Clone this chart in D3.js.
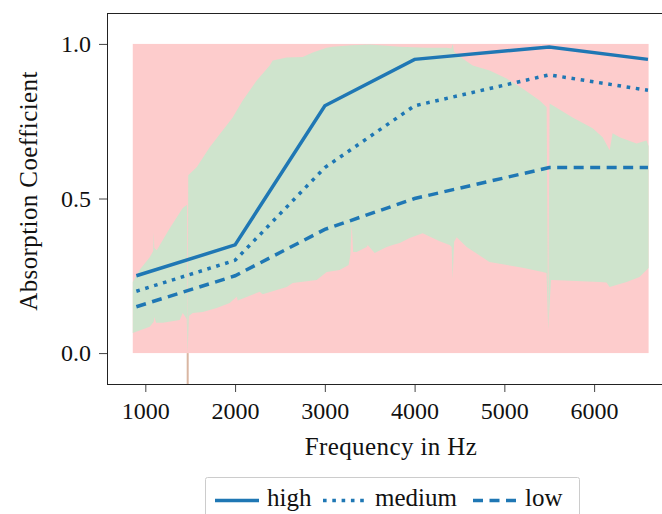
<!DOCTYPE html>
<html>
<head>
<meta charset="utf-8">
<script src="https://cdn.jsdelivr.net/npm/d3@7"></script>
<style>
  body { margin: 0; background: #fff; }
  svg text { font-family: "Liberation Serif", "Times New Roman", serif; fill: #111; }
</style>
</head>
<body>
<div id="chart"></div>
<script>
// measured points of the three curves
const freqs = [900, 2000, 3000, 4000, 5500, 6600];
const high = [0.25, 0.35, 0.80, 0.95, 0.99, 0.95];
const medium = [0.20, 0.30, 0.60, 0.80, 0.90, 0.85];
const low = [0.15, 0.25, 0.40, 0.50, 0.60, 0.60];
const seriesNames = ["high", "medium", "low"];

// background band (frequency span, value span)
const bandFreq = [860, 6607];
const bandValue = [0, 1];

// upper / lower edge of the green envelope, [freq, value]
const envUpper = [
  [860, 0.23], [940, 0.27], [1049, 0.31], [1088, 0.33], [1094, 0.39], [1100, 0.34],
  [1127, 0.333], [1272, 0.404], [1417, 0.469], [1465, 0.48], [1472, 0.0], [1478, 0.575],
  [1495, 0.58], [1572, 0.601], [1717, 0.666], [1973, 0.762], [2085, 0.817],
  [2241, 0.882], [2386, 0.93], [2419, 0.946], [2575, 0.956], [2753, 0.958],
  [2865, 0.972], [3021, 0.988], [3088, 0.991], [3300, 0.996], [3500, 0.998],
  [3834, 0.991], [4134, 0.988], [4357, 0.988], [4410, 0.985], [4424, 1.0],
  [4440, 0.975], [4535, 0.953], [4647, 0.93], [4836, 0.914], [5025, 0.888],
  [5203, 0.856], [5393, 0.817], [5471, 0.795], [5488, 0.075], [5504, 0.807],
  [5760, 0.762], [5984, 0.727], [6095, 0.698], [6173, 0.656], [6206, 0.711],
  [6284, 0.698], [6473, 0.678], [6584, 0.688], [6607, 0.669]
];
const envLower = [
  [860, 0.065], [1049, 0.085], [1094, 0.101], [1100, 0.117], [1120, 0.098],
  [1194, 0.098], [1383, 0.107], [1417, 0.13], [1461, 0.11], [1472, 0.0],
  [1485, 0.12], [1528, 0.13], [1640, 0.133], [1795, 0.146], [1940, 0.162],
  [2018, 0.182], [2030, 0.17], [2274, 0.198], [2307, 0.19], [2575, 0.214],
  [2642, 0.227], [2909, 0.236], [3021, 0.262], [3165, 0.269], [3265, 0.285],
  [3285, 0.32], [3299, 0.42], [3315, 0.327], [3355, 0.327], [3466, 0.343],
  [3477, 0.35], [3555, 0.324], [3689, 0.343], [3756, 0.35], [3834, 0.356],
  [3945, 0.372], [4090, 0.388], [4279, 0.362], [4390, 0.35], [4413, 0.343],
  [4424, 0.24], [4440, 0.36], [4469, 0.375], [4580, 0.343], [4834, 0.295],
  [5204, 0.276], [5427, 0.262], [5470, 0.259], [5488, 0.075], [5520, 0.236],
  [5538, 0.236], [6061, 0.23], [6138, 0.228], [6173, 0.214], [6362, 0.23],
  [6506, 0.246], [6607, 0.275]
];
const spikeFreq = [1472];

const xTicks = [1000, 2000, 3000, 4000, 5000, 6000];
const yTicks = [0.0, 0.5, 1.0];

const W = 662, H = 514;
const plot = { left: 107, top: 13, right: 674, bottom: 384 };

const svg = d3.select("#chart")
  .append("svg")
  .attr("width", W)
  .attr("height", H);

const x = d3.scaleLinear().domain([573, 6890]).range([plot.left, plot.right]);
const y = d3.scaleLinear().domain([-0.1, 1.1]).range([plot.bottom, plot.top]);

svg.append("clipPath").attr("id", "clip")
  .append("rect")
  .attr("x", plot.left).attr("y", plot.top)
  .attr("width", plot.right - plot.left).attr("height", plot.bottom - plot.top);

const g = svg.append("g").attr("clip-path", "url(#clip)");

// pink band
g.append("rect")
  .attr("x", x(bandFreq[0]))
  .attr("y", y(bandValue[1]))
  .attr("width", x(bandFreq[1]) - x(bandFreq[0]))
  .attr("height", y(bandValue[0]) - y(bandValue[1]))
  .attr("fill", "#fdcccc");

// green envelope
const env = envUpper.concat(envLower.slice().reverse());
g.append("path")
  .attr("d", d3.line().x(d => x(d[0])).y(d => y(d[1]))(env) + "Z")
  .attr("fill", "#cfe4cd");

// thin spike below the band
g.selectAll("line.spike")
  .data(spikeFreq)
  .enter()
  .append("line")
  .attr("class", "spike")
  .attr("x1", d => x(d)).attr("x2", d => x(d))
  .attr("y1", y(0)).attr("y2", y(-0.1))
  .attr("stroke", "#d9b6a2")
  .attr("stroke-width", 2);

const dashes = { high: null, medium: "3.6,5.7", low: "10,6.5" };
const values = { high: high, medium: medium, low: low };

const line = d3.line()
  .x((d, i) => x(freqs[i]))
  .y(d => y(d));

seriesNames.forEach(name => {
  g.append("path")
    .datum(values[name])
    .attr("fill", "none")
    .attr("stroke", "#1f77b4")
    .attr("stroke-width", 3.5)
    .attr("stroke-dasharray", dashes[name])
    .attr("d", line);
});

// axes
const xAxis = svg.append("g")
  .attr("transform", `translate(0,${plot.bottom})`)
  .call(d3.axisBottom(x).tickValues(xTicks).tickSize(8).tickPadding(10).tickFormat(d3.format("d")));
const yAxis = svg.append("g")
  .attr("transform", `translate(${plot.left},0)`)
  .call(d3.axisLeft(y).tickValues(yTicks).tickSize(8).tickPadding(8).tickFormat(d3.format(".1f")));

[xAxis, yAxis].forEach(a => {
  a.select(".domain").remove();
  a.selectAll(".tick line").attr("stroke", "#444");
  a.selectAll(".tick text").style("font-size", "24px").attr("fill", "#111");
});

svg.append("rect")
  .attr("x", plot.left + 0.5)
  .attr("y", plot.top + 0.5)
  .attr("width", plot.right - plot.left)
  .attr("height", plot.bottom - plot.top)
  .attr("fill", "none")
  .attr("stroke", "#222")
  .attr("stroke-width", 1);

svg.append("text")
  .attr("x", 391)
  .attr("y", 455)
  .attr("text-anchor", "middle")
  .style("font-size", "25px")
  .style("letter-spacing", "0.4px")
  .text("Frequency in Hz");

svg.append("text")
  .attr("transform", "rotate(-90)")
  .attr("x", -191)
  .attr("y", 37)
  .attr("text-anchor", "middle")
  .style("font-size", "25px")
  .style("letter-spacing", "0.4px")
  .text("Absorption Coefficient");

// legend
const legend = svg.append("g");
legend.append("rect")
  .attr("x", 205.5).attr("y", 477.5)
  .attr("width", 374).attr("height", 50)
  .attr("rx", 2)
  .attr("fill", "#fff")
  .attr("stroke", "#ccc");

const legendX = [215, 323, 473];
seriesNames.forEach((name, i) => {
  legend.append("line")
    .attr("x1", legendX[i]).attr("x2", legendX[i] + 44)
    .attr("y1", 500.5).attr("y2", 500.5)
    .attr("stroke", "#1f77b4")
    .attr("stroke-width", 3.5)
    .attr("stroke-dasharray", dashes[name]);
  legend.append("text")
    .attr("x", legendX[i] + 52)
    .attr("y", 506)
    .style("font-size", "25px")
    .text(name);
});
</script>
</body>
</html>
